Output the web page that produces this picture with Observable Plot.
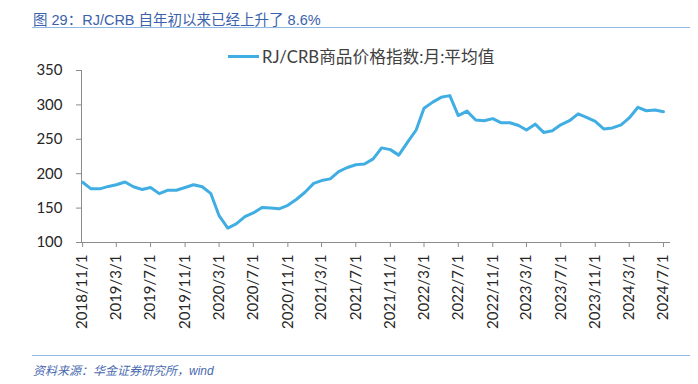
<!DOCTYPE html>
<html><head><meta charset="utf-8">
<script src="https://cdn.jsdelivr.net/npm/d3@7"></script>
<script src="https://cdn.jsdelivr.net/npm/@observablehq/plot@0.6"></script>
<style>
body{margin:0;background:#fff}
#wrap{position:relative;width:698px;height:384px;overflow:hidden;background:#fff}
#title{position:absolute;left:33px;top:8px;font-size:14.5px;font-family:"Liberation Sans","Noto Sans CJK SC",sans-serif;color:#3a62ad;white-space:nowrap}
.hr{position:absolute;left:32px;width:658px;height:0;border-top:1.5px solid #8fb9e2}
#legend{position:absolute;left:228px;top:45px;height:22px;display:flex;align-items:center;white-space:nowrap;font-family:Lato,"Noto Sans CJK SC",sans-serif;font-size:16.7px;color:#404040}
#legend .sw{display:inline-block;width:31px;height:3px;background:#41aee3;margin-right:3px}
#chart{position:absolute;left:0;top:40px}
#source{position:absolute;left:33px;top:361px;font-size:12px;font-style:italic;font-family:"Liberation Sans","Noto Sans CJK SC",sans-serif;color:#4a6ab0;white-space:nowrap}
</style></head>
<body>
<div id="wrap">
  <div id="title">图 29：RJ/CRB 自年初以来已经上升了 8.6%</div>
  <div class="hr" style="top:27px"></div>
  <div id="legend"><span class="sw"></span><span id="legtext"></span></div>
  <div id="chart"></div>
  <div class="hr" style="top:355px"></div>
  <div id="source">资料来源：华金证券研究所，wind</div>
</div>
<script>
const seriesName = "RJ/CRB商品价格指数:月:平均值";
const months = ["2018-11","2018-12","2019-01","2019-02","2019-03","2019-04","2019-05","2019-06","2019-07","2019-08","2019-09","2019-10","2019-11","2019-12",
"2020-01","2020-02","2020-03","2020-04","2020-05","2020-06","2020-07","2020-08","2020-09","2020-10","2020-11","2020-12",
"2021-01","2021-02","2021-03","2021-04","2021-05","2021-06","2021-07","2021-08","2021-09","2021-10","2021-11","2021-12",
"2022-01","2022-02","2022-03","2022-04","2022-05","2022-06","2022-07","2022-08","2022-09","2022-10","2022-11","2022-12",
"2023-01","2023-02","2023-03","2023-04","2023-05","2023-06","2023-07","2023-08","2023-09","2023-10","2023-11","2023-12",
"2024-01","2024-02","2024-03","2024-04","2024-05","2024-06","2024-07"];
const values = [187.5,178,178,181.5,184,188,181,177,180,171,176,176,180,184,
181,171,139,121,127,137.5,143,151,150,149,154,162.5,
173,186,190,192.5,203,209,213,214,221.5,237.5,235,227,
245.5,263.5,295,304,311,313.5,284.5,291,278,277,280,274,
274,270,263.5,272,260,262.5,271,277,287,282,276,265,
266.5,271,281,296.5,291.5,292.5,290];
const tickLabels = ["2018/11/1","2019/3/1","2019/7/1","2019/11/1","2020/3/1","2020/7/1","2020/11/1","2021/3/1","2021/7/1","2021/11/1","2022/3/1","2022/7/1","2022/11/1","2023/3/1","2023/7/1","2023/11/1","2024/3/1","2024/7/1"];
const yTicks = [100,150,200,250,300,350];

document.getElementById("legtext").textContent = seriesName;

const parseYM = s => { const [y,m] = s.split("-").map(Number); return new Date(Date.UTC(y, m-1, 1)); };
const parseTick = s => { const [y,m,d] = s.split("/").map(Number); return new Date(Date.UTC(y, m-1, d)); };
const data = months.map((m,i) => ({date: parseYM(m), value: values[i]}));
const tickDates = tickLabels.map(parseTick);
const fmt = d => `${d.getUTCFullYear()}/${d.getUTCMonth()+1}/${d.getUTCDate()}`;

const x0 = new Date(Date.UTC(2018,9,28));
const x1 = new Date(Date.UTC(2024,6,26));

const chart = Plot.plot({
  width: 698, height: 305,
  marginLeft: 81, marginRight: 28, marginTop: 30, marginBottom: 103,
  style: {fontFamily: "Lato, 'Noto Sans CJK SC', sans-serif", fontSize: "15px", background: "transparent", overflow: "visible"},
  x: {type: "utc", domain: [x0, x1], label: null},
  y: {domain: [100, 350], label: null},
  marks: [
    Plot.ruleX([x0], {stroke: "#8c8c8c", strokeWidth: 1}),
    Plot.ruleY([100], {stroke: "#8c8c8c", strokeWidth: 1}),
    Plot.axisY({ticks: yTicks, tickSize: 5, tickPadding: 14, stroke: "#8c8c8c", fill: "#262626", fontSize: 15, label: null}),
    Plot.axisX({ticks: tickDates, tickFormat: fmt, tickRotate: -90, tickSize: 5, tickPadding: 7, stroke: "#8c8c8c", fill: "#262626", fontSize: 15, label: null}),
    Plot.lineY(data, {x: "date", y: "value", stroke: "#41aee3", strokeWidth: 3})
  ]
});
document.getElementById("chart").appendChild(chart);
</script>
</body></html>
